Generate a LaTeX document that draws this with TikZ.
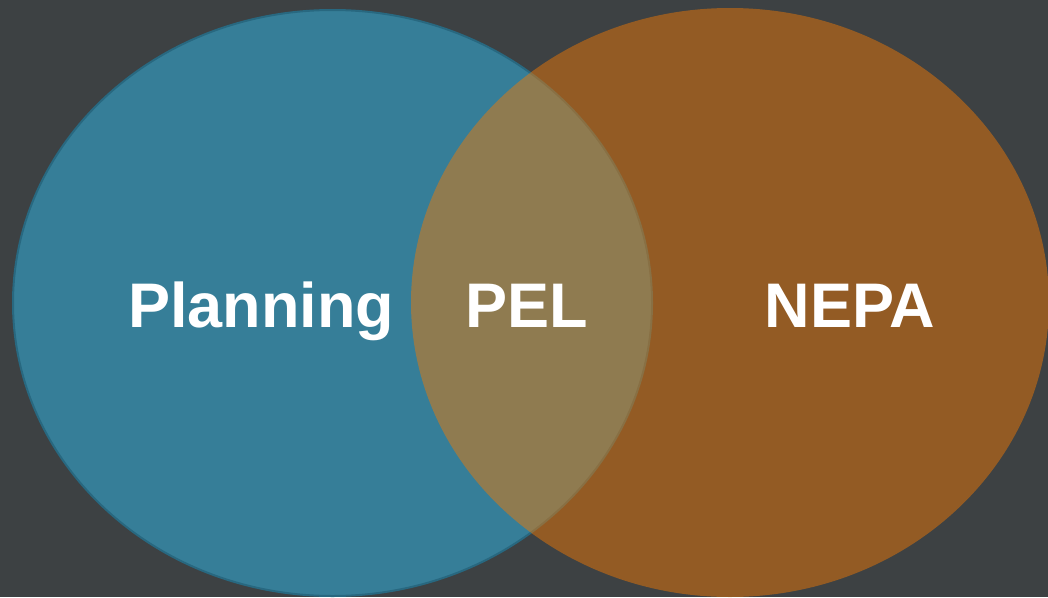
\documentclass[tikz,border=0pt]{standalone}
\usepackage{fontspec}
\setmainfont{Liberation Sans}
\definecolor{bgc}{RGB}{61,65,67}
\definecolor{bluec}{RGB}{54,126,152}
\definecolor{blueedge}{RGB}{40,104,128}
\definecolor{orangec}{RGB}{242,121,3}
\tikzset{
  lbl/.style={text=white, font=\fontsize{63}{76}\selectfont\bfseries, inner sep=0pt, anchor=base},
}
\begin{document}
\begin{tikzpicture}[x=1pt,y=-1pt]
\fill[bgc] (0,0) rectangle (1048,597);
\useasboundingbox (0,0) rectangle (1048,597);
\draw[fill=bluec, draw=blueedge, line width=2pt] (332.5,303) ellipse [x radius=319.5, y radius=293];
\fill[orangec, fill opacity=0.48] (730,302.5) ellipse [x radius=319, y radius=294.5];
\node[lbl] (planning) at (261,327) {Planning};
\node[lbl] (pel) at (527,327) {PEL};
\node[lbl] (nepa) at (850,327) {NEPA};
\end{tikzpicture}
\end{document}
